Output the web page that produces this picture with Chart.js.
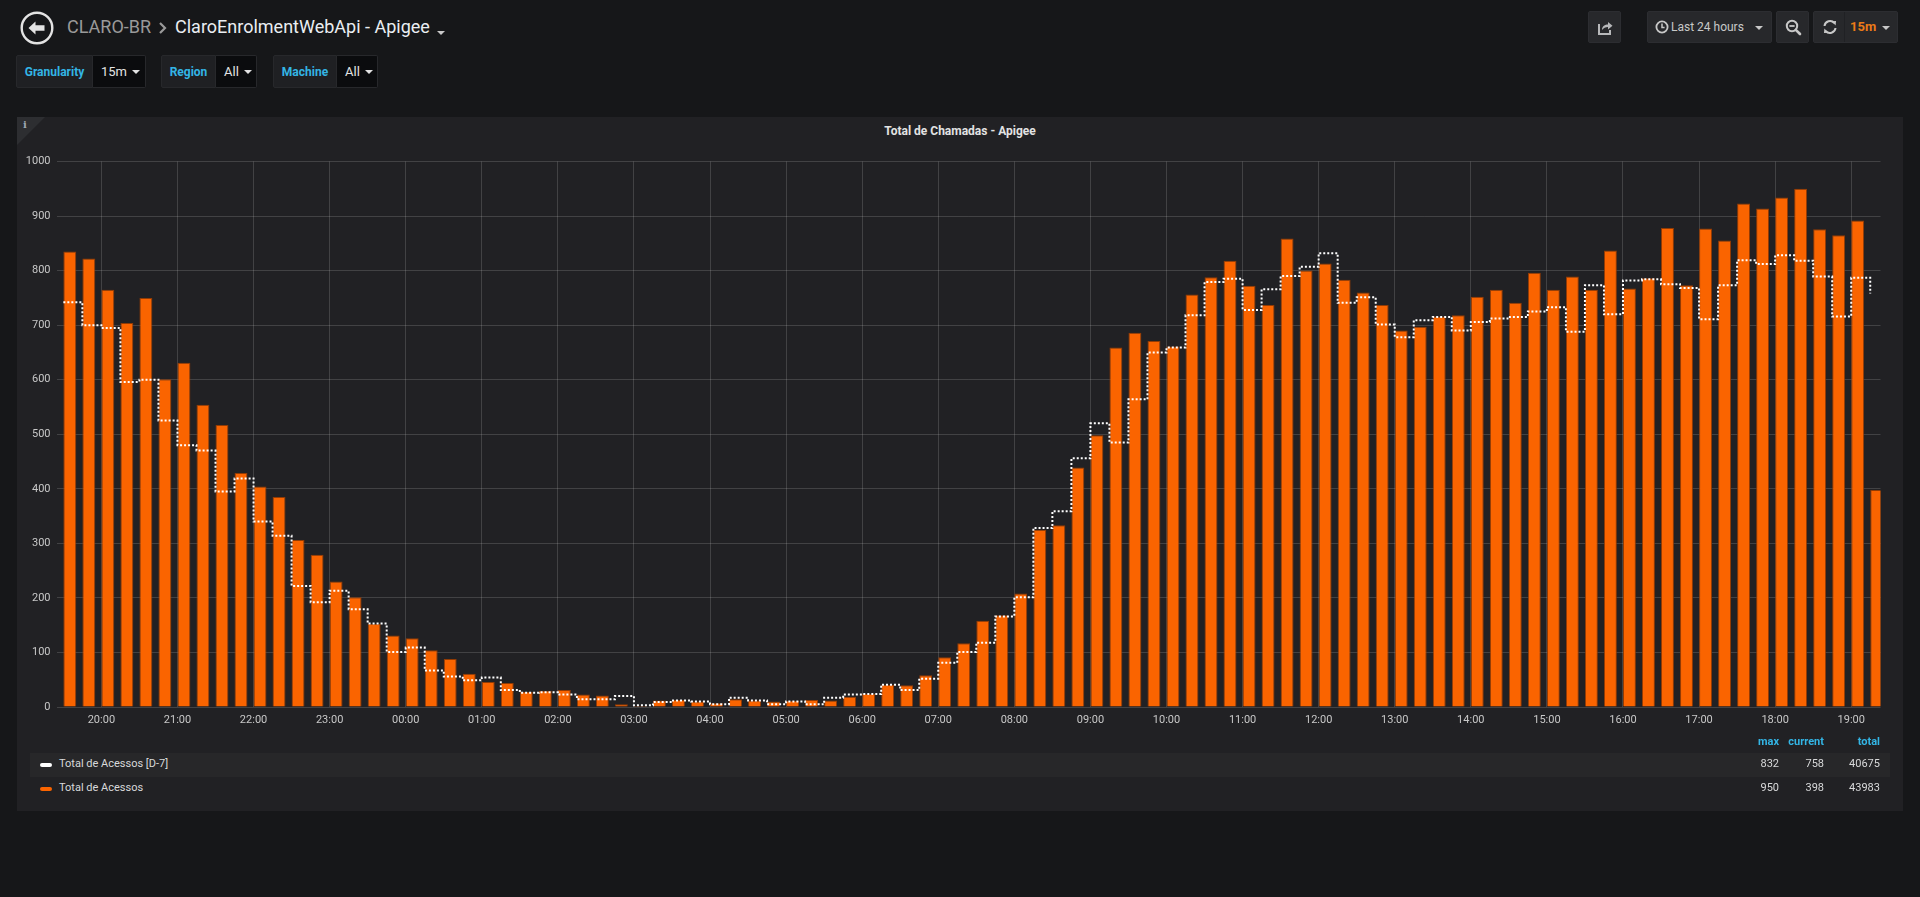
<!DOCTYPE html>
<html>
<head>
<meta charset="utf-8">
<script src="https://cdn.jsdelivr.net/npm/chart.js@4.4.0/dist/chart.umd.min.js"></script>
<style>
  html, body { margin:0; padding:0; background:#161719; width:1920px; height:897px; overflow:hidden;
    font-family: Roboto, "Noto Sans", "Liberation Sans", sans-serif; }
  .abs { position:absolute; }
  .crumb { position:absolute; font-size:18px; line-height:18px; white-space:nowrap; }
  .varlabel { position:absolute; top:55px; height:33px; background:#1f2023; border:1px solid #27282b; box-sizing:border-box;
    color:#33b5e5; font-size:12px; font-weight:bold; line-height:32px; text-align:center; border-radius:2px 0 0 2px; }
  .varvalue { position:absolute; top:55px; height:33px; background:#0b0c0e; border:1px solid #27282b; border-left:none; box-sizing:border-box;
    color:#e3e3e3; font-size:13px; line-height:32px; padding-left:8px; border-radius:0 2px 2px 0; }
  .caret { display:inline-block; width:0; height:0; border-left:4px solid transparent; border-right:4px solid transparent;
    border-top:4px solid #e3e3e3; vertical-align:middle; margin-left:5px; margin-top:-2px; }
  .btn { position:absolute; top:11px; height:32px; background:#27282b; border:1px solid #2c2d31; box-sizing:border-box; border-radius:2px; }
  #panel { position:absolute; left:17px; top:117px; width:1886px; height:694px; background:#212124; }
  #corner { position:absolute; left:0; top:0; width:0; height:0; border-top:28px solid #2d2e31; border-right:28px solid transparent; }
  #ptitle { position:absolute; left:0; width:1886px; top:6px; text-align:center; color:#e3e3e3; font-size:12px; font-weight:bold; line-height:16px; }
  .lg { position:absolute; font-size:11px; line-height:14px; color:#d8d9da; white-space:nowrap; }
  .lgh { position:absolute; font-size:11px; line-height:14px; color:#33b5e5; font-weight:bold; white-space:nowrap; }
  .num { text-align:right; }
</style>
</head>
<body>

<!-- Header: back button and breadcrumb -->
<svg class="abs" style="left:20px;top:11px" width="34" height="34" viewBox="0 0 34 34">
  <circle cx="17" cy="17" r="15.3" fill="none" stroke="#e3e3e3" stroke-width="2.4"/>
  <path d="M8.5 17 L15.5 10.5 L15.5 14.2 L24.5 14.2 L24.5 19.8 L15.5 19.8 L15.5 23.5 Z" fill="#e3e3e3"/>
</svg>
<div class="crumb" style="left:67px;top:18px;color:#9a9a9a;">CLARO-BR</div>
<svg class="abs" style="left:158px;top:21px" width="10" height="14" viewBox="0 0 10 14">
  <polyline points="2,2 7,7 2,12" fill="none" stroke="#9a9a9a" stroke-width="2.2"/>
</svg>
<div class="crumb" style="left:175px;top:18px;color:#eaeef2;">ClaroEnrolmentWebApi - Apigee</div>
<div class="abs" style="left:437px;top:31px;width:0;height:0;border-left:4px solid transparent;border-right:4px solid transparent;border-top:4px solid #c8c8c8;"></div>

<!-- Template variables -->
<div class="varlabel" style="left:16px;width:77px;">Granularity</div>
<div class="varvalue" style="left:93px;width:53px;">15m<span class="caret"></span></div>
<div class="varlabel" style="left:161px;width:55px;">Region</div>
<div class="varvalue" style="left:216px;width:41px;">All<span class="caret"></span></div>
<div class="varlabel" style="left:273px;width:64px;">Machine</div>
<div class="varvalue" style="left:337px;width:41px;">All<span class="caret"></span></div>

<!-- Top right buttons -->
<div class="btn" style="left:1588px;width:33px;">
  <svg class="abs" style="left:8px;top:7px" width="17" height="17" viewBox="0 0 17 17">
    <path d="M2 5 L2 15 L13 15 L13 11" fill="none" stroke="#b7b8ba" stroke-width="2"/>
    <path d="M5 11 C5 7 8 5.5 11 5.5 L11 3 L15.5 6.8 L11 10.5 L11 8 C8.5 8 6.5 9 5 11 Z" fill="#b7b8ba"/>
  </svg>
</div>
<div class="btn" style="left:1647px;width:125px;">
  <svg class="abs" style="left:7px;top:8px" width="14" height="14" viewBox="0 0 14 14">
    <circle cx="7" cy="7" r="5.6" fill="none" stroke="#c8c8c8" stroke-width="1.8"/>
    <path d="M7 3.6 L7 7.4 L9.6 7.4" fill="none" stroke="#c8c8c8" stroke-width="1.5"/>
  </svg>
  <div class="abs" style="left:23px;top:8px;font-size:12px;line-height:14px;color:#c8c8c8;white-space:nowrap;">Last 24 hours</div>
  <div class="abs" style="left:107px;top:14px;width:0;height:0;border-left:4px solid transparent;border-right:4px solid transparent;border-top:4px solid #c8c8c8;"></div>
</div>
<div class="btn" style="left:1776px;width:33px;">
  <svg class="abs" style="left:8px;top:7px" width="17" height="17" viewBox="0 0 17 17">
    <circle cx="7" cy="7" r="5.2" fill="none" stroke="#c8c8c8" stroke-width="2"/>
    <path d="M4.4 7 L9.6 7" stroke="#c8c8c8" stroke-width="1.8"/>
    <path d="M10.8 10.8 L15 15" stroke="#c8c8c8" stroke-width="2.6" stroke-linecap="round"/>
  </svg>
</div>
<div class="btn" style="left:1813px;width:85px;">
  <svg class="abs" style="left:8px;top:7px" width="16" height="16" viewBox="0 0 16 16">
    <path d="M2.5 7 A5.6 5.6 0 0 1 12.3 4" fill="none" stroke="#c8c8c8" stroke-width="2"/>
    <path d="M9.8 2.2 L14 2 L13.6 6.4 Z" fill="#c8c8c8"/>
    <path d="M13.5 9 A5.6 5.6 0 0 1 3.7 12" fill="none" stroke="#c8c8c8" stroke-width="2"/>
    <path d="M6.2 13.8 L2 14 L2.4 9.6 Z" fill="#c8c8c8"/>
  </svg>
  <div class="abs" style="left:30px;top:0;width:1px;height:30px;background:#202124;"></div>
  <div class="abs" style="left:36px;top:8px;font-size:13px;line-height:14px;color:#eb7b18;font-weight:bold;">15m</div>
  <div class="abs" style="left:68px;top:14px;width:0;height:0;border-left:4px solid transparent;border-right:4px solid transparent;border-top:4px solid #c8c8c8;"></div>
</div>

<!-- Panel -->
<div id="panel">
  <div id="corner"></div>
  <div class="abs" style="left:6px;top:2px;font-family:'DejaVu Serif',serif;font-weight:bold;font-size:10px;color:#9fa7b3;">i</div>
  <div id="ptitle">Total de Chamadas - Apigee</div>
  <canvas id="c" width="1886" height="600" style="position:absolute;left:0;top:23px;width:1886px;height:600px;"></canvas>

  <!-- Legend (page coords minus panel offset 17,117) -->
  <div class="lgh num" style="left:1702px;width:60px;top:618px;">max</div>
  <div class="lgh num" style="left:1747px;width:60px;top:618px;">current</div>
  <div class="lgh num" style="left:1803px;width:60px;top:618px;">total</div>

  <div class="abs" style="left:13px;top:636px;width:1860px;height:24px;background:#272729;"></div>
  <div class="abs" style="left:23px;top:646px;width:12px;height:4px;border-radius:2px;background:#ffffff;"></div>
  <div class="lg" style="left:42px;top:640px;">Total de Acessos [D-7]</div>
  <div class="lg num" style="left:1702px;width:60px;top:640px;">832</div>
  <div class="lg num" style="left:1747px;width:60px;top:640px;">758</div>
  <div class="lg num" style="left:1803px;width:60px;top:640px;">40675</div>

  <div class="abs" style="left:23px;top:670px;width:12px;height:4px;border-radius:2px;background:#FA6400;"></div>
  <div class="lg" style="left:42px;top:664px;">Total de Acessos</div>
  <div class="lg num" style="left:1702px;width:60px;top:664px;">950</div>
  <div class="lg num" style="left:1747px;width:60px;top:664px;">398</div>
  <div class="lg num" style="left:1803px;width:60px;top:664px;">43983</div>
</div>

<script>
// ---------------- DATA ----------------
// 15-minute buckets (bucket start times), spanning the last 24 hours
const categories = [
  "19:30","19:45","20:00","20:15","20:30","20:45","21:00","21:15","21:30","21:45",
  "22:00","22:15","22:30","22:45","23:00","23:15","23:30","23:45","00:00","00:15",
  "00:30","00:45","01:00","01:15","01:30","01:45","02:00","02:15","02:30","02:45",
  "03:00","03:15","03:30","03:45","04:00","04:15","04:30","04:45","05:00","05:15",
  "05:30","05:45","06:00","06:15","06:30","06:45","07:00","07:15","07:30","07:45",
  "08:00","08:15","08:30","08:45","09:00","09:15","09:30","09:45","10:00","10:15",
  "10:30","10:45","11:00","11:15","11:30","11:45","12:00","12:15","12:30","12:45",
  "13:00","13:15","13:30","13:45","14:00","14:15","14:30","14:45","15:00","15:15",
  "15:30","15:45","16:00","16:15","16:30","16:45","17:00","17:15","17:30","17:45",
  "18:00","18:15","18:30","18:45","19:00","19:15"
];

// "Total de Acessos" (bars)
const totalAcessos = [
  835, 822, 765, 704, 750, 601, 631, 554, 517, 429,
  404, 385, 306, 279, 230, 201, 152, 131, 126, 104,
   88,  61,  46,  44,  28,  30,  31,  23,  21,   5,
    2,  12,  13,  10,   7,  14,  12,  10,  11,  13,
   12,  19,  24,  41,  40,  58,  91, 117, 158, 168,
  208, 325, 333, 439, 498, 659, 686, 671, 661, 756,
  788, 818, 772, 737, 859, 800, 813, 783, 760, 737,
  690, 697, 716, 718, 752, 765, 741, 796, 765, 789,
  765, 837, 767, 786, 878, 773, 877, 855, 923, 914,
  934, 950, 876, 865, 892, 398
];

// "Total de Acessos [D-7]" (dotted staircase line)
const totalAcessosD7 = [
  742, 700, 695, 596, 600, 525, 480, 470, 395, 419,
  340, 314, 222, 192, 213, 179, 153, 101, 109,  67,
   56,  49,  54,  31,  26,  27,  23,  14,  14,  20,
    3,   9,  12,  10,   5,  17,  12,   5,  10,   5,
   17,  23,  24,  41,  31,  52,  81, 101, 118, 166,
  201, 328, 359, 456, 520, 485, 564, 650, 659, 718,
  779, 785, 728, 766, 790, 807, 832, 741, 751, 701,
  678, 709, 715, 690, 706, 712, 715, 725, 733, 688,
  773, 720, 782, 784, 775, 768, 711, 773, 819, 812,
  828, 818, 789, 716, 787, 758
];

// x-axis tick labels (hourly)
const xTickLabels = [
  "20:00","21:00","22:00","23:00","00:00","01:00","02:00","03:00","04:00","05:00",
  "06:00","07:00","08:00","09:00","10:00","11:00","12:00","13:00","14:00","15:00",
  "16:00","17:00","18:00","19:00"
];
const yTicks = { min: 0, max: 1000, step: 100 };

// visible time window (minutes since first day's 00:00)
const X_MIN = 1164.6;   // ~19:24.6
const X_MAX = 2603.1;   // ~19:23.1 next day

// ---------------- STYLE ----------------
const BUCKET_MIN = 15;
const BAR_FRACTION = 0.68;          // bar width relative to bucket
const BAR_COLOR = '#FA6400';
const BAR_EDGE = 'rgba(160,62,0,0.9)';
const LINE_COLOR = '#ffffff';
const GRID_COLOR = 'rgba(200,200,200,0.2)';
const TICK_COLOR = '#c8c8c8';

// ---------------- BUILD ----------------
function toMinutes(list) {
  const out = []; let dayOffset = 0; let prev = -1;
  for (const s of list) {
    const [h, m] = s.split(':').map(Number);
    let v = h * 60 + m + dayOffset;
    if (v < prev) { dayOffset += 1440; v += 1440; }
    out.push(v); prev = v;
  }
  return out;
}
const catMin = toMinutes(categories);
const tickMin = toMinutes(xTickLabels);
const labelByMin = {};
tickMin.forEach((v, i) => labelByMin[v] = xTickLabels[i]);

// bars are left-aligned on their bucket start (Grafana style)
const barData = catMin.map((t, i) => ({ x: t + BUCKET_MIN * BAR_FRACTION / 2, y: totalAcessos[i] }));
const lineData = catMin.map((t, i) => ({ x: t, y: totalAcessosD7[i] }));

Chart.defaults.font.family = 'Roboto, "Noto Sans", sans-serif';

new Chart(document.getElementById('c'), {
  data: {
    datasets: [
      {
        type: 'line',
        label: 'Total de Acessos [D-7]',
        data: lineData,
        borderColor: LINE_COLOR,
        borderWidth: 2,
        borderDash: [2, 2],
        stepped: 'before',
        pointRadius: 0,
        fill: false,
        order: 0,
        clip: 0
      },
      {
        type: 'bar',
        label: 'Total de Acessos',
        data: barData,
        backgroundColor: BAR_COLOR,
        borderColor: BAR_EDGE,
        borderWidth: 1,
        borderSkipped: 'bottom',
        barPercentage: BAR_FRACTION,
        categoryPercentage: 1,
        order: 1,
        clip: 0
      }
    ]
  },
  options: {
    responsive: false,
    animation: false,
    layout: { padding: { top: 21.5, right: 22.5, left: 0, bottom: 0 } },
    plugins: { legend: { display: false }, tooltip: { enabled: false }, title: { display: false } },
    scales: {
      x: {
        type: 'linear',
        offset: false,
        min: X_MIN,
        max: X_MAX,
        afterBuildTicks: (scale) => { scale.ticks = tickMin.map(v => ({ value: v })); },
        afterFit: (scale) => { scale.height = 33; },
        ticks: {
          autoSkip: false, maxRotation: 0, minRotation: 0,
          color: TICK_COLOR, font: { size: 11 }, padding: 7,
          callback: (v) => labelByMin[v] || ''
        },
        grid: { color: GRID_COLOR, drawTicks: false, lineWidth: 1, offset: false },
        border: { display: false }
      },
      y: {
        min: yTicks.min,
        max: yTicks.max,
        afterFit: (scale) => { scale.width = 39.5; },
        ticks: { stepSize: yTicks.step, color: TICK_COLOR, font: { size: 11 }, padding: 6,
                 callback: (v) => String(v) },
        grid: { color: GRID_COLOR, drawTicks: false, lineWidth: 1 },
        border: { display: false }
      }
    }
  }
});
</script>
</body>
</html>
